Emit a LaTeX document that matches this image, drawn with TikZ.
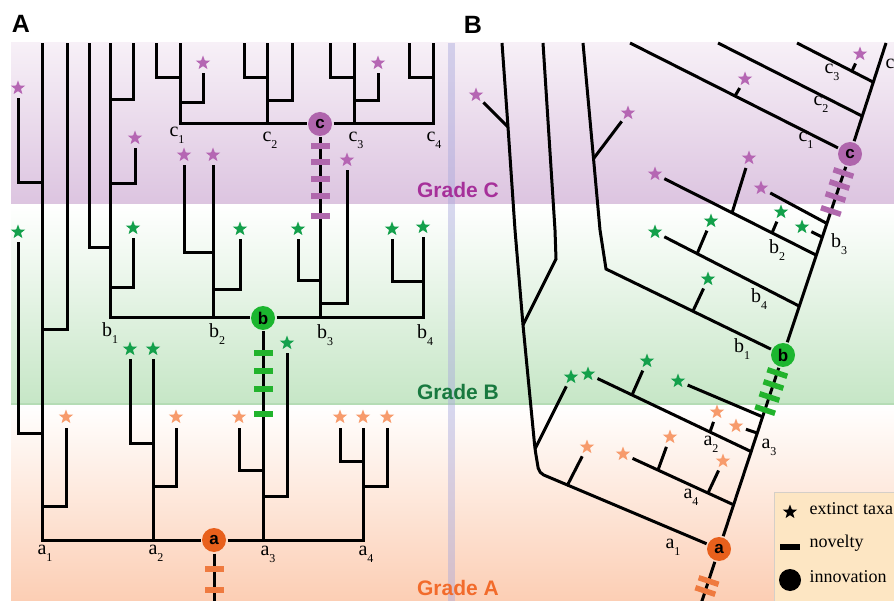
\documentclass[tikz,border=0pt]{standalone}
\usepackage{fontspec}
\setmainfont{Liberation Serif}
\newfontfamily\sansfam{Liberation Sans}
\usetikzlibrary{shapes.geometric}
\definecolor{starO}{HTML}{F79B6C}
\definecolor{starG}{HTML}{13A04B}
\definecolor{starP}{HTML}{B566B3}
\definecolor{barO}{HTML}{EF7A3F}
\definecolor{barG}{HTML}{22B32C}
\definecolor{barP}{HTML}{B068AD}
\definecolor{nodeA}{HTML}{E8601C}
\definecolor{nodeB}{HTML}{1CB62F}
\definecolor{nodeC}{HTML}{AF65AC}
\definecolor{gradeCc}{HTML}{A6309A}
\definecolor{gradeBc}{HTML}{18793F}
\definecolor{gradeAc}{HTML}{F26B2B}
\definecolor{bandCt}{HTML}{F7F0F7}
\definecolor{bandCm}{HTML}{EADCEC}
\definecolor{bandCb}{HTML}{DCC4E0}
\definecolor{bandBm}{HTML}{EEF7EE}
\definecolor{bandBb}{HTML}{C6E6C6}
\definecolor{bandBline}{HTML}{B5DCB5}
\definecolor{bandAm}{HTML}{FEEDE3}
\definecolor{bandAb}{HTML}{FCCEB4}
\definecolor{stripec}{HTML}{A8A8DC}
\definecolor{legfill}{HTML}{FDE6C3}
\definecolor{legborder}{HTML}{D5CFC8}
\newcommand\sublbl[2]{#1\rlap{\raisebox{-0.36em}{\fontsize{12}{12}\selectfont #2}}}
\begin{document}
\begin{tikzpicture}[x=1pt,y=-1pt,line width=3pt,
  ext/.style={circle,minimum size=18pt,inner sep=0pt,
    path picture={\node[star,star points=5,star point ratio=2.4,minimum size=15pt,inner sep=0pt,fill=#1,draw=none] at (path picture bounding box.center) {};}},
  innov/.style={circle,minimum size=24pt,inner sep=0pt,fill=#1,font=\sansfam\bfseries\fontsize{17}{17}\selectfont},
  novel/.style={rectangle,minimum width=19pt,minimum height=5.5pt,inner sep=0pt,fill=#1},
  tnovel/.style={novel=#1,minimum width=21pt,rotate=-18.3},
  lbl/.style={font=\fontsize{20}{20}\selectfont,inner sep=0pt,anchor=mid},
  gradelbl/.style={font=\sansfam\bfseries\fontsize{21}{21}\selectfont,inner sep=0pt},
  panel/.style={font=\sansfam\bfseries\fontsize{25}{25}\selectfont,inner sep=0pt},
  legtext/.style={font=\fontsize{18}{18}\selectfont,inner sep=0pt,anchor=mid west}]
\path[use as bounding box] (0,0) rectangle (894,601);
\clip (0,0) rectangle (894,601);
% background bands
\shade[top color=bandCt,middle color=bandCm,bottom color=bandCb] (11,43) rectangle (894,205);
\shade[top color=white,middle color=bandBm,bottom color=bandBb] (11,205) rectangle (894,404);
\shade[top color=white,middle color=bandAm,bottom color=bandAb] (11,404) rectangle (894,601);
\draw[line width=1.2pt,bandBline] (11,404) -- (894,404);
\fill[stripec,opacity=0.45] (448,43) rectangle (455,601);
% panel and grade labels
\node[panel] (pA) at (21,24) {A};
\node[panel] (pB) at (473,25) {B};
\node[gradelbl,text=gradeCc] (gC) at (458,190) {Grade C};
\node[gradelbl,text=gradeBc] (gB) at (458,392) {Grade B};
\node[gradelbl,text=gradeAc] (gA) at (458,588) {Grade A};

% ================= Panel A =================
\node[innov=nodeA] (aA) at (214,540) {a};
\node[innov=nodeB] (bA) at (263,318) {b};
\node[innov=nodeC] (cA) at (320,124) {c};
\node[ext=starO] (sA1) at (66,417) {};
\node[ext=starO] (sA2) at (176,417) {};
\node[ext=starO] (sA3) at (239,417) {};
\node[ext=starO] (sA4) at (340,417) {};
\node[ext=starO] (sA5) at (363,417) {};
\node[ext=starO] (sA6) at (387,417) {};
\node[ext=starG] (sB1) at (18,232) {};
\node[ext=starG] (sB2) at (130,349) {};
\node[ext=starG] (sB3) at (153,349) {};
\node[ext=starG] (sB4) at (287,343) {};
\node[ext=starG] (sB5) at (133,228) {};
\node[ext=starG] (sB6) at (240,229) {};
\node[ext=starG] (sB7) at (298,229) {};
\node[ext=starG] (sB8) at (392,229) {};
\node[ext=starG] (sB9) at (423,227) {};
\node[ext=starP] (sC1) at (18,88) {};
\node[ext=starP] (sC2) at (135,138) {};
\node[ext=starP] (sC3) at (184,155) {};
\node[ext=starP] (sC4) at (213,155) {};
\node[ext=starP] (sC5) at (347,160) {};
\node[ext=starP] (sC6) at (203,63) {};
\node[ext=starP] (sC7) at (378,63) {};
% grade A clade
\draw (aA) -- (42,540) -- (42,43);
\draw (aA) -- (363,540) -- (sA5);
\draw (aA) -- (214,606);
\draw (42,506) -| (sA1);
\draw (42,433) -| (sB1);
\draw (42,330) -| (67,43);
\draw (42,183) -| (sC1);
\draw (153,540) -- (sB3);
\draw (153,486) -| (sA2);
\draw (153,443) -| (sB2);
\draw (263,540) -- (bA);
\draw (263,470) -| (sA3);
\draw (263,496) -| (sB4);
\draw (363,461) -| (sA4);
\draw (363,486) -| (sA6);
% grade B clade
\draw (bA) -- (110,318) -- (110,43);
\draw (bA) -- (423,318) -- (sB9);
\draw (110,288) -| (sB5);
\draw (110,248) -| (89,43);
\draw (110,184) -| (sC2);
\draw (110,100) -| (133,43);
\draw (213,318) -- (sC4);
\draw (213,290) -| (sB6);
\draw (213,253) -| (sC3);
\draw (320,318) -- (cA);
\draw (320,281) -| (sB7);
\draw (320,304) -| (sC5);
\draw (423,282) -| (sB8);
% grade C clade
\draw (cA) -- (180,124) -- (180,43);
\draw (cA) -- (433,124) -- (433,43);
\draw (180,103) -| (sC6);
\draw (180,78) -| (156,43);
\draw (267,124) -- (267,43);
\draw (267,101) -| (292,43);
\draw (267,78) -| (244,43);
\draw (354,124) -- (354,43);
\draw (354,101) -| (sC7);
\draw (354,78) -| (330,43);
\draw (433,78) -| (409,43);
% novelties A
\node[novel=barO] (nA1) at (214,569) {};
\node[novel=barO] (nA2) at (214,590) {};
\node[novel=barG] (nB1) at (263,353) {};
\node[novel=barG] (nB2) at (263,371) {};
\node[novel=barG] (nB3) at (263,389) {};
\node[novel=barG] (nB4) at (263,414) {};
\node[novel=barP] (nC1) at (320,146) {};
\node[novel=barP] (nC2) at (320,162) {};
\node[novel=barP] (nC3) at (320,179) {};
\node[novel=barP] (nC4) at (320,196) {};
\node[novel=barP] (nC5) at (320,216) {};
% labels A
\node[lbl] (lc1) at (174,134) {\sublbl{c}{1}};
\node[lbl] (lc2) at (267,139) {\sublbl{c}{2}};
\node[lbl] (lc3) at (353,139) {\sublbl{c}{3}};
\node[lbl] (lc4) at (431,139) {\sublbl{c}{4}};
\node[lbl] (lb1) at (107,334) {\sublbl{b}{1}};
\node[lbl] (lb2) at (214,335) {\sublbl{b}{2}};
\node[lbl] (lb3) at (322,336) {\sublbl{b}{3}};
\node[lbl] (lb4) at (422,336) {\sublbl{b}{4}};
\node[lbl] (la1) at (42,552) {\sublbl{a}{1}};
\node[lbl] (la2) at (153,552) {\sublbl{a}{2}};
\node[lbl] (la3) at (265,553) {\sublbl{a}{3}};
\node[lbl] (la4) at (363,553) {\sublbl{a}{4}};

% ================= Panel B =================
\node[innov=nodeA] (aB) at (719,549) {a};
\node[innov=nodeB] (bB) at (783,355) {b};
\node[innov=nodeC] (cB) at (850,154) {c};
\coordinate (Tbot) at (700,607);
\coordinate (Ttop) at (886,43);
\node[ext=starP] (tP1) at (476,95) {};
\node[ext=starP] (tP2) at (628,113) {};
\node[ext=starP] (tP3) at (655,174) {};
\node[ext=starP] (tP4) at (749,158) {};
\node[ext=starP] (tP5) at (761,188) {};
\node[ext=starP] (tP6) at (745,79) {};
\node[ext=starP] (tP7) at (860,54) {};
\node[ext=starG] (tG1) at (571,377) {};
\node[ext=starG] (tG2) at (708,279) {};
\node[ext=starG] (tG3) at (655,232) {};
\node[ext=starG] (tG4) at (711,221) {};
\node[ext=starG] (tG5) at (781,212) {};
\node[ext=starG] (tG6) at (802,227) {};
\node[ext=starG] (tG7) at (588,374) {};
\node[ext=starG] (tG8) at (647,361) {};
\node[ext=starG] (tG9) at (678,381) {};
\node[ext=starO] (tO1) at (587,447) {};
\node[ext=starO] (tO2) at (623,454) {};
\node[ext=starO] (tO3) at (670,437) {};
\node[ext=starO] (tO4) at (723,461) {};
\node[ext=starO] (tO5) at (717,412) {};
\node[ext=starO] (tO6) at (736,426) {};
% trunk
\draw (Tbot) -- (aB);
\draw (aB) -- (bB);
\draw (bB) -- (cB);
\draw (cB) -- (Ttop);
% a1 lineage
\draw[rounded corners=5pt] (aB) -- (539,473) -- (535,449) -- (523,325) -- (515,230) -- (508,127) -- (502,43);
\draw (508,127) -- (tP1);
\draw (523,325) -- (556,259) -- (555,230) -- (543,43);
\draw (535,449) -- (tG1);
\draw (567,486) -- (tO1);
% a-branches
\draw (734,505) -- (tO2);
\draw (658,470) -- (tO3);
\draw (708,493) -- (tO4);
\draw (752,452) -- (tG7);
\draw (632,395) -- (tG8);
\draw (710,432) -- (tO5);
\draw (757,433) -- (tO6);
\draw (763,417) -- (tG9);
% b-branches
\draw (bB) -- (606,269) -- (600,230) -- (583,43);
\draw (594,158) -- (tP2);
\draw (693,311) -- (tG2);
\draw (799,306) -- (tG3);
\draw (697,254) -- (tG4);
\draw (816,255) -- (tP3);
\draw (732,213) -- (tP4);
\draw (772,233) -- (tG5);
\draw (822,237) -- (tG6);
\draw (826,223) -- (tP5);
% c-branches
\draw (cB) -- (630,43);
\draw (735,96) -- (tP6);
\draw (862,116) -- (718,43);
\draw (873,82) -- (797,43);
\draw (852,71) -- (tP7);
% novelties B
\node[tnovel=barP] (mC1) at (843.4,173) {};
\node[tnovel=barP] (mC2) at (839.4,185) {};
\node[tnovel=barP] (mC3) at (835.5,197) {};
\node[tnovel=barP] (mC4) at (830.9,211) {};
\node[tnovel=barG] (mB1) at (777.3,373) {};
\node[tnovel=barG] (mB2) at (773.4,385) {};
\node[tnovel=barG] (mB3) at (769.4,397) {};
\node[tnovel=barG] (mB4) at (765.1,410) {};
\node[tnovel=barO] (mA1) at (708.6,581) {};
\node[tnovel=barO] (mA2) at (705.3,591) {};
% labels B
\node[lbl] (ma1) at (670,546) {\sublbl{a}{1}};
\node[lbl] (ma2) at (708,443) {\sublbl{a}{2}};
\node[lbl] (ma3) at (766,446) {\sublbl{a}{3}};
\node[lbl] (ma4) at (688,496) {\sublbl{a}{4}};
\node[lbl] (mb1) at (739,350) {\sublbl{b}{1}};
\node[lbl] (mb4) at (756,300) {\sublbl{b}{4}};
\node[lbl] (mb2) at (774,251) {\sublbl{b}{2}};
\node[lbl] (mb3) at (836,245) {\sublbl{b}{3}};
\node[lbl] (mc1) at (803,139) {\sublbl{c}{1}};
\node[lbl] (mc2) at (818,103) {\sublbl{c}{2}};
\node[lbl] (mc3) at (829,71) {\sublbl{c}{3}};
\node[lbl] (mc4) at (890,66) {\sublbl{c}{4}};

% legend
\draw[line width=0.8pt,draw=legborder,fill=legfill] (774,492) rectangle (900,610);
\node[star,star points=5,star point ratio=2.4,minimum size=15pt,inner sep=0pt,fill=black] (legS) at (790,512) {};
\node[rectangle,minimum width=20pt,minimum height=6pt,inner sep=0pt,fill=black] (legN) at (790,547) {};
\node[circle,minimum size=22pt,inner sep=0pt,fill=black] (legI) at (790,580) {};
\node[legtext] (legSt) at (808,512) {extinct taxa};
\node[legtext] (legNt) at (808,545) {novelty};
\node[legtext] (legIt) at (808,580) {innovation};
\end{tikzpicture}
\end{document}
